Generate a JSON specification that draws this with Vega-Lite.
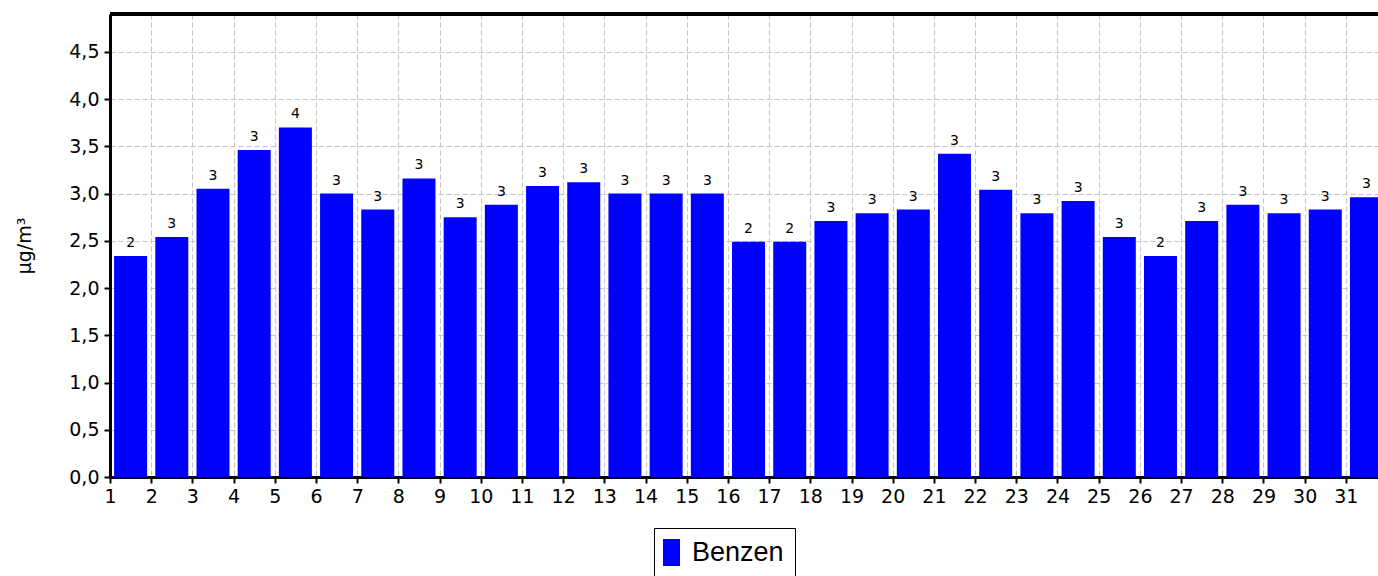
{
  "$schema": "https://vega.github.io/schema/vega-lite/v6.json",
  "autosize": {"type": "none"},
  "width": 1268,
  "height": 463,
  "padding": {"left": 110, "top": 14, "right": 0, "bottom": 99},
  "background": "white",
  "config": {
    "view": {"stroke": null},
    "font": "DejaVu Sans"
  },
  "data": {
    "values": [
      {"day": 1, "value": 2.34, "pollutant": "Benzen"},
      {"day": 2, "value": 2.54, "pollutant": "Benzen"},
      {"day": 3, "value": 3.05, "pollutant": "Benzen"},
      {"day": 4, "value": 3.46, "pollutant": "Benzen"},
      {"day": 5, "value": 3.70, "pollutant": "Benzen"},
      {"day": 6, "value": 3.00, "pollutant": "Benzen"},
      {"day": 7, "value": 2.83, "pollutant": "Benzen"},
      {"day": 8, "value": 3.16, "pollutant": "Benzen"},
      {"day": 9, "value": 2.75, "pollutant": "Benzen"},
      {"day": 10, "value": 2.88, "pollutant": "Benzen"},
      {"day": 11, "value": 3.08, "pollutant": "Benzen"},
      {"day": 12, "value": 3.12, "pollutant": "Benzen"},
      {"day": 13, "value": 3.00, "pollutant": "Benzen"},
      {"day": 14, "value": 3.00, "pollutant": "Benzen"},
      {"day": 15, "value": 3.00, "pollutant": "Benzen"},
      {"day": 16, "value": 2.49, "pollutant": "Benzen"},
      {"day": 17, "value": 2.49, "pollutant": "Benzen"},
      {"day": 18, "value": 2.71, "pollutant": "Benzen"},
      {"day": 19, "value": 2.79, "pollutant": "Benzen"},
      {"day": 20, "value": 2.83, "pollutant": "Benzen"},
      {"day": 21, "value": 3.42, "pollutant": "Benzen"},
      {"day": 22, "value": 3.04, "pollutant": "Benzen"},
      {"day": 23, "value": 2.79, "pollutant": "Benzen"},
      {"day": 24, "value": 2.92, "pollutant": "Benzen"},
      {"day": 25, "value": 2.54, "pollutant": "Benzen"},
      {"day": 26, "value": 2.34, "pollutant": "Benzen"},
      {"day": 27, "value": 2.71, "pollutant": "Benzen"},
      {"day": 28, "value": 2.88, "pollutant": "Benzen"},
      {"day": 29, "value": 2.79, "pollutant": "Benzen"},
      {"day": 30, "value": 2.83, "pollutant": "Benzen"},
      {"day": 31, "value": 2.96, "pollutant": "Benzen"}
    ]
  },
  "layer": [
    {
      "mark": {"type": "bar", "width": 33, "xOffset": 20.6, "clip": true},
      "encoding": {
        "x": {
          "field": "day",
          "type": "quantitative",
          "scale": {"domain": [1, 31.78], "nice": false, "zero": false, "padding": 0},
          "axis": {
            "title": null,
            "values": [1,2,3,4,5,6,7,8,9,10,11,12,13,14,15,16,17,18,19,20,21,22,23,24,25,26,27,28,29,30,31],
            "format": "d",
            "labelFont": "DejaVu Sans",
            "labelFontSize": 19,
            "labelColor": "black",
            "labelPadding": 4,
            "labelFlush": false,
            "labelOverlap": false,
            "domainColor": "black",
            "domainWidth": 3,
            "tickColor": "black",
            "tickWidth": 2,
            "tickSize": 6,
            "grid": true,
            "gridColor": "#c4c4c4",
            "gridDash": [5, 3],
            "gridWidth": 1
          }
        },
        "y": {
          "field": "value",
          "type": "quantitative",
          "scale": {"domain": [0, 4.9], "nice": false},
          "axis": {
            "title": "µg/m³",
            "titleFont": "DejaVu Sans",
            "titleFontSize": 19,
            "titleFontWeight": "normal",
            "titleColor": "black",
            "titlePadding": 34,
            "values": [0, 0.5, 1, 1.5, 2, 2.5, 3, 3.5, 4, 4.5],
            "labelExpr": "replace(format(datum.value, '.1f'), '.', ',')",
            "labelFont": "DejaVu Sans",
            "labelFontSize": 19,
            "labelColor": "black",
            "labelPadding": 5,
            "labelFlush": false,
            "domainColor": "black",
            "domainWidth": 3,
            "tickColor": "black",
            "tickWidth": 2,
            "tickSize": 6,
            "grid": true,
            "gridColor": "#c4c4c4",
            "gridDash": [5, 3],
            "gridWidth": 1
          }
        },
        "color": {
          "field": "pollutant",
          "type": "nominal",
          "scale": {"range": ["#0000ff"]},
          "legend": {
            "title": null,
            "orient": "none",
            "legendX": 544,
            "legendY": 514,
            "strokeColor": "black",
            "padding": 11,
            "labelFont": "Liberation Sans",
            "labelFontSize": 27,
            "labelColor": "black",
            "labelOffset": 0,
            "symbolType": "M-1.15,-1H0.11V1H-1.15Z",
            "symbolSize": 729,
            "symbolStrokeWidth": 0,
            "symbolOpacity": 1
          }
        }
      }
    },
    {
      "mark": {"type": "text", "xOffset": 20.6, "dy": -6, "baseline": "bottom", "fontSize": 14, "font": "DejaVu Sans", "color": "black", "clip": true},
      "encoding": {
        "x": {"field": "day", "type": "quantitative"},
        "y": {"field": "value", "type": "quantitative"},
        "text": {"field": "value", "type": "quantitative", "format": ".0f"}
      }
    },
    {
      "mark": {"type": "rule", "color": "black", "strokeWidth": 3},
      "encoding": {"y": {"datum": 4.9}}
    }
  ]
}
